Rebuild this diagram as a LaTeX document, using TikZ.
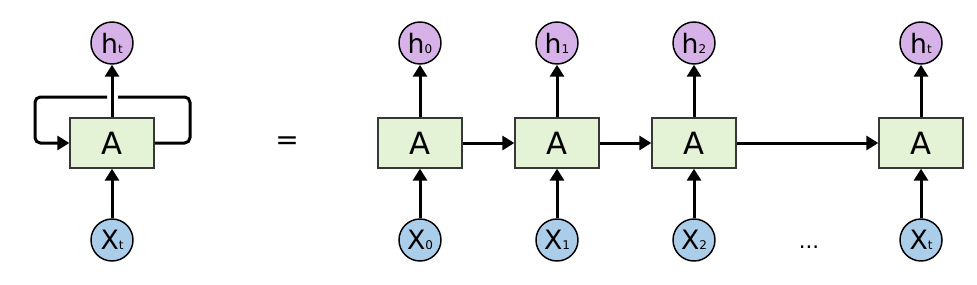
\documentclass[tikz,border=0pt]{standalone}
\usepackage{fontspec}
\setmainfont{DejaVu Sans}
\usetikzlibrary{arrows.meta,positioning}
\definecolor{CellGreen}{RGB}{228,242,214}
\definecolor{CellEdge}{RGB}{55,55,55}
\definecolor{OutPurple}{RGB}{215,178,232}
\definecolor{InBlue}{RGB}{170,205,234}
\newcommand{\subtxt}[1]{{\fontsize{9}{9}\selectfont #1}}
\tikzset{
  cell/.style={draw=CellEdge,line width=1pt,fill=CellGreen,minimum width=63pt,
    minimum height=37.5pt,inner sep=0pt,font=\fontsize{23}{23}\selectfont},
  outnode/.style={circle,draw,line width=1.1pt,fill=OutPurple,minimum size=31.5pt,
    inner sep=0pt,font=\fontsize{20}{20}\selectfont},
  innode/.style={outnode,fill=InBlue},
  flow/.style={-{Triangle[length=9pt,width=10.5pt]},line width=2.25pt},
}
\begin{document}
\begin{tikzpicture}[x=0.75pt,y=-0.75pt]
      \useasboundingbox (0,0) rectangle (977,285);
      % folded network
      \node[cell] (cellL) at (112,143) {A};
      \node[outnode] (hL) at (112,43) {h\subtxt{t}};
      \node[innode] (xL) at (112,240) {X\subtxt{t}};
      \draw[flow] (xL) -- (cellL);
      \draw[flow] (cellL) -- (hL);
      \coordinate (gapR) at (118,97);
      \coordinate (gapL) at (107,97);
      \draw[line width=2.25pt,rounded corners=4pt] (cellL.east) -| (190,97) -- (gapR);
      \draw[flow,rounded corners=4pt] (gapL) -| (35,143) -- (cellL.west);
      \node[font=\fontsize{21}{21}\selectfont] (eq) at (287,143) {=};
      % unrolled network
      \node[cell] (cell0) at (420,143) {A};
      \node[cell] (cell1) at (557,143) {A};
      \node[cell] (cell2) at (694,143) {A};
      \node[cell] (cellT) at (921,143) {A};
      \node[outnode] (h0) at (420,43) {h\subtxt{0}};
      \node[outnode] (h1) at (557,43) {h\subtxt{1}};
      \node[outnode] (h2) at (694,43) {h\subtxt{2}};
      \node[outnode] (hT) at (921,43) {h\subtxt{t}};
      \node[innode] (x0) at (420,240) {X\subtxt{0}};
      \node[innode] (x1) at (557,240) {X\subtxt{1}};
      \node[innode] (x2) at (694,240) {X\subtxt{2}};
      \node[innode] (xT) at (921,240) {X\subtxt{t}};
      \node[font=\fontsize{16}{16}\selectfont,inner sep=0pt] (dots) at (809,247) {...};
      \draw[flow] (x0) -- (cell0);
      \draw[flow] (x1) -- (cell1);
      \draw[flow] (x2) -- (cell2);
      \draw[flow] (xT) -- (cellT);
      \draw[flow] (cell0) -- (h0);
      \draw[flow] (cell1) -- (h1);
      \draw[flow] (cell2) -- (h2);
      \draw[flow] (cellT) -- (hT);
      \draw[flow] (cell0) -- (cell1);
      \draw[flow] (cell1) -- (cell2);
      \draw[flow] (cell2) -- (cellT);
    \end{tikzpicture}
\end{document}
